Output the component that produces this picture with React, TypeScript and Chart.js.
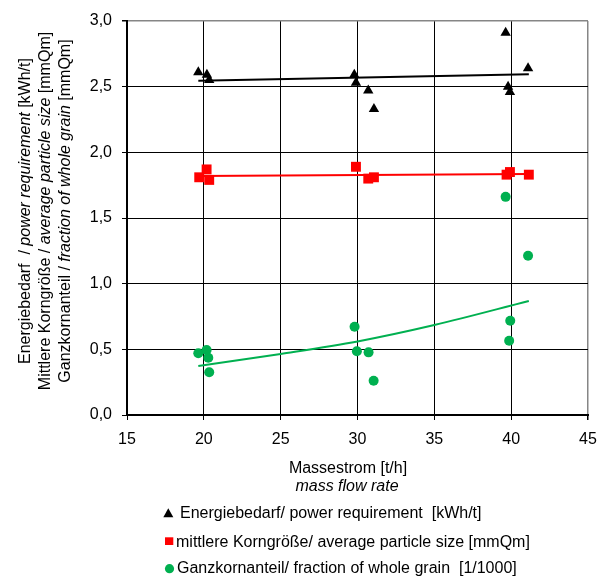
import React, { useEffect, useRef } from 'react';
import { Chart, registerables } from 'chart.js';

Chart.register(...registerables);

const FONT = '"Liberation Sans", Arial, sans-serif';

// x axis
const xMin = 15;
const xMax = 45;
const xStep = 5;
// y axis
const yMin = 0;
const yMax = 3;
const yStep = 0.5;

// Energiebedarf / power requirement [kWh/t]
const powerX = [19.64, 20.2, 20.35, 29.79, 29.9, 30.7, 31.07, 39.64, 39.8, 39.92, 41.1];
const powerY = [2.61, 2.59, 2.55, 2.59, 2.53, 2.47, 2.33, 2.91, 2.5, 2.46, 2.64];
const powerTrendX = [19.64, 41.15];
const powerTrendY = [2.545, 2.595];

// mittlere Korngröße / average particle size [mmQm]
const sizeX = [19.7, 20.18, 20.35, 29.9, 30.7, 31.07, 39.7, 39.92, 41.15];
const sizeY = [1.81, 1.87, 1.79, 1.89, 1.8, 1.81, 1.83, 1.85, 1.83];
const sizeTrendX = [19.64, 41.15];
const sizeTrendY = [1.82, 1.835];

// Ganzkornanteil / fraction of whole grain [1/1000]
const grainX = [19.64, 20.18, 20.29, 20.35, 29.81, 29.96, 30.72, 31.05, 39.64, 39.87, 39.94, 41.1];
const grainY = [0.47, 0.495, 0.436, 0.325, 0.672, 0.485, 0.477, 0.261, 1.661, 0.565, 0.718, 1.212];
const grainTrendX = [19.64, 25, 30, 35, 41.15];
const grainTrendY = [0.373, 0.465, 0.56, 0.685, 0.868];

const legendLabels = [
  'Energiebedarf/ power requirement  [kWh/t]',
  'mittlere Korngröße/ average particle size [mmQm]',
  'Ganzkornanteil/ fraction of whole grain  [1/1000]',
];

const yTitleLines: [string, boolean][][] = [
  [['Energiebedarf  / ', false], ['power requirement', true], [' [kWh/t]', false]],
  [['Mittlere Korngröße / ', false], ['average particle size', true], [' [mmQm]', false]],
  [['Ganzkornanteil / ', false], ['fraction of whole grain', true], [' [mmQm]', false]],
];
const xTitle = 'Massestrom [t/h]';
const xTitleItalic = 'mass flow rate';

const BLACK = '#000000';
const RED = '#FF0000';
const GREEN = '#00B050';

function pts(xs: number[], ys: number[]) {
  return xs.map((x, i) => ({ x, y: ys[i] }));
}

const fontN = `16px ${FONT}`;
const fontI = `italic 16px ${FONT}`;

function drawMixed(ctx: CanvasRenderingContext2D, parts: [string, boolean][], cx: number, baseline: number) {
  let total = 0;
  const widths = parts.map(([t, it]) => {
    ctx.font = it ? fontI : fontN;
    const w = ctx.measureText(t).width;
    total += w;
    return w;
  });
  let x = cx - total / 2;
  parts.forEach(([t, it], i) => {
    ctx.font = it ? fontI : fontN;
    ctx.fillText(t, x, baseline);
    x += widths[i];
  });
}

const textPlugin = {
  id: 'customTexts',
  afterDraw(chart: any) {
    const ctx: CanvasRenderingContext2D = chart.ctx;
    ctx.save();
    ctx.fillStyle = '#000';
    ctx.textAlign = 'left';
    ctx.textBaseline = 'alphabetic';

    // y axis title (rotated)
    const baselines = [22, 42, 62];
    yTitleLines.forEach((parts, i) => {
      ctx.save();
      ctx.translate(baselines[i], 203);
      ctx.rotate(-Math.PI / 2);
      drawMixed(ctx, parts, 0, 0);
      ctx.restore();
    });

    // x axis title
    drawMixed(ctx, [[xTitle, false]], 340, 465);
    drawMixed(ctx, [[xTitleItalic, true]], 339, 483);

    // legend
    ctx.font = fontN;
    ctx.fillStyle = BLACK;
    ctx.beginPath();
    ctx.moveTo(160.3, 500.3);
    ctx.lineTo(165.3, 509.3);
    ctx.lineTo(155.3, 509.3);
    ctx.closePath();
    ctx.fill();
    ctx.fillStyle = '#000';
    ctx.fillText(legendLabels[0], 172, 510.3);
    ctx.fillStyle = RED;
    ctx.fillRect(157, 529.3, 8.3, 7.7);
    ctx.fillStyle = '#000';
    ctx.fillText(legendLabels[1], 168, 538.7);
    ctx.fillStyle = GREEN;
    ctx.beginPath();
    ctx.arc(161.5, 560.7, 4.6, 0, Math.PI * 2);
    ctx.fill();
    ctx.fillStyle = '#000';
    ctx.fillText(legendLabels[2], 169, 565.3);

    ctx.restore();
  },
};

export default function App() {
  const canvasRef = useRef<HTMLCanvasElement | null>(null);

  useEffect(() => {
    if (!canvasRef.current) return;
    const chart = new Chart(canvasRef.current, {
      type: 'scatter',
      data: {
        datasets: [
          {
            label: legendLabels[0],
            data: pts(powerX, powerY),
            pointStyle: 'triangle',
            pointRadius: 6,
            backgroundColor: BLACK,
            borderColor: BLACK,
            borderWidth: 0,
            showLine: false,
          },
          {
            label: legendLabels[1],
            data: pts(sizeX, sizeY),
            pointStyle: 'rect',
            pointRadius: 7,
            backgroundColor: RED,
            borderColor: RED,
            borderWidth: 0,
            showLine: false,
          },
          {
            label: legendLabels[2],
            data: pts(grainX, grainY),
            pointStyle: 'circle',
            pointRadius: 5,
            backgroundColor: GREEN,
            borderColor: GREEN,
            borderWidth: 0,
            showLine: false,
          },
          {
            label: 'trend power',
            data: pts(powerTrendX, powerTrendY),
            showLine: true,
            pointRadius: 0,
            borderColor: BLACK,
            borderWidth: 2,
          },
          {
            label: 'trend size',
            data: pts(sizeTrendX, sizeTrendY),
            showLine: true,
            pointRadius: 0,
            borderColor: RED,
            borderWidth: 2,
          },
          {
            label: 'trend grain',
            data: pts(grainTrendX, grainTrendY),
            showLine: true,
            pointRadius: 0,
            borderColor: GREEN,
            borderWidth: 2,
            cubicInterpolationMode: 'monotone',
          },
        ],
      },
      options: {
        animation: false,
        responsive: true,
        maintainAspectRatio: false,
        layout: { padding: { left: 0, top: 13, right: 12, bottom: 0 } },
        plugins: {
          legend: { display: false },
          tooltip: { enabled: false },
          title: { display: false },
        },
        scales: {
          x: {
            type: 'linear',
            min: xMin,
            max: xMax,
            ticks: {
              stepSize: xStep,
              font: { family: FONT, size: 16 },
              color: '#000',
              padding: 10,
            },
            grid: {
              color: (c: any) => (c.tick && c.tick.value === xMax ? '#868686' : '#000'),
              lineWidth: (c: any) => (c.tick && c.tick.value === xMax ? 1.5 : 1),
              tickLength: 5,
              tickColor: '#000',
            },
            border: { color: '#000', width: 2 },
            afterFit: (s: any) => {
              s.height = 164;
              s.paddingLeft = 0;
              s.paddingRight = 0;
            },
          },
          y: {
            type: 'linear',
            min: yMin,
            max: yMax,
            ticks: {
              stepSize: yStep,
              font: { family: FONT, size: 16 },
              color: '#000',
              padding: 10,
              callback: (v: any) => Number(v).toFixed(1).replace('.', ','),
            },
            grid: {
              color: (c: any) => (c.tick && c.tick.value === yMax ? '#868686' : '#000'),
              lineWidth: (c: any) => (c.tick && c.tick.value === yMax ? 1.5 : 1),
              tickLength: 5,
              tickColor: '#000',
            },
            border: { color: '#000', width: 2 },
            afterFit: (s: any) => {
              s.width = 119;
              s.paddingTop = 0;
              s.paddingBottom = 0;
            },
          },
        },
      } as any,
      plugins: [textPlugin],
    });
    return () => chart.destroy();
  }, []);

  return (
    <div style={{ width: 592, height: 571, position: 'relative' }}>
      <canvas ref={canvasRef} />
    </div>
  );
}
